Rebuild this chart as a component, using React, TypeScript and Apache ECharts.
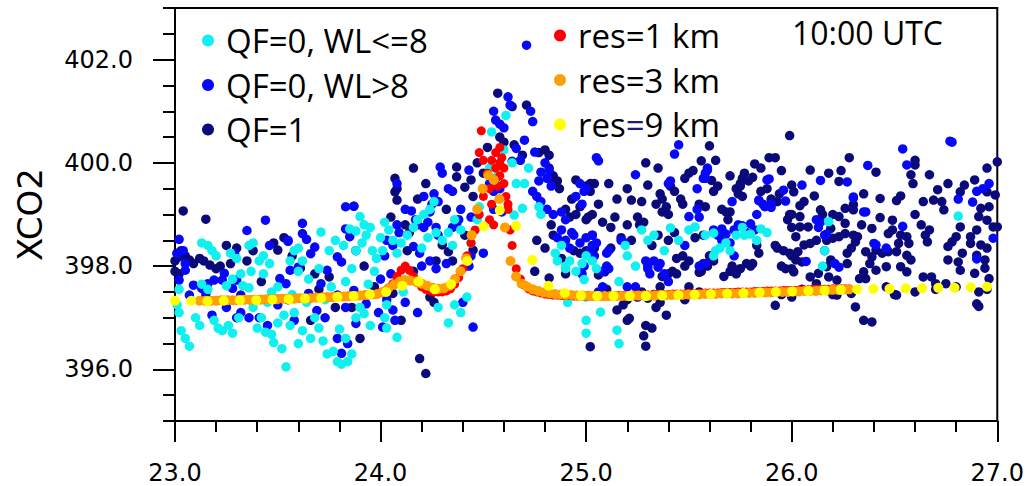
import React, { useEffect, useRef } from "react";
import * as echarts from "echarts";

// ---------- axis ticks ----------
const yLabelValues = [396, 398, 400, 402];

// ---------- observations: QF=0, WL<=8 (cyan) ----------
const cyanPts: number[][] = [
  [23.02,397.55],[23.01,397.25],[23.02,397.1],[23.03,396.75],[23.05,396.6],[23.07,396.45],[23.1,397.0],[23.12,396.85],[23.13,397.65],[23.16,397.55],
  [23.13,398.45],[23.16,398.4],[23.18,398.3],[23.2,398.2],[23.19,396.95],[23.21,396.8],[23.23,396.75],[23.26,396.85],[23.28,396.7],[23.31,397.0],
  [23.27,398.25],[23.3,398.15],[23.36,398.4],[23.38,398.45],[23.41,398.1],[23.43,398.2],[23.37,397.9],[23.32,397.85],[23.33,397.62],[23.36,397.58],
  [23.28,397.75],[23.25,397.62],[23.38,397.2],[23.42,397.0],[23.4,396.8],[23.44,396.72],[23.47,396.68],[23.48,396.52],[23.5,396.9],[23.53,397.05],
  [23.52,396.4],[23.54,396.05],[23.45,397.3],[23.47,397.5],[23.5,397.6],[23.43,397.85],[23.46,398.05],
  [23.56,398.1],[23.58,398.3],[23.6,398.35],[23.62,398.1],[23.6,397.9],[23.65,397.75],[23.7,397.95],[23.71,398.66],[23.68,397.0],[23.7,396.8],
  [23.72,396.55],[23.74,396.3],[23.77,396.35],[23.79,396.15],[23.81,396.1],[23.84,396.15],[23.86,396.3],[23.83,396.6],[23.8,396.78],[23.88,397.0],
  [23.9,397.2],[23.92,397.08],[23.95,396.85],[23.75,398.3],[23.78,398.5],[23.82,398.4],[23.85,398.72],[23.88,398.68],[23.9,398.96],[23.92,398.8],
  [23.93,398.6],[23.95,398.75],[23.91,398.45],[23.88,398.3],[23.96,398.3],[23.98,398.15],[23.97,397.9],[23.76,397.6],[23.73,397.35],[23.64,397.3],
  [23.58,397.1],[23.56,396.85],[23.62,396.75],[23.66,396.6],[23.6,396.5],[23.57,397.45],[23.83,397.7],[23.86,397.95],[23.94,397.65],
  [24.0,398.55],[24.02,398.85],[24.04,398.7],[24.06,398.5],[24.01,398.3],[24.03,397.25],[24.02,397.0],[24.03,396.8],[24.08,396.62],[24.11,397.5],
  [24.14,397.72],[24.08,398.25],[24.1,398.45],[24.13,398.6],[24.16,398.75],[24.18,398.9],[24.21,399.0],[24.24,399.1],[24.26,399.25],[24.23,398.55],
  [24.2,398.35],[24.27,398.65],[24.3,398.5],[24.33,398.65],[24.36,398.9],[24.39,398.7],[24.35,398.4],[24.28,397.2],[24.33,396.9],[24.36,397.25],
  [24.42,397.4],[24.39,397.1],[24.44,398.45],[24.47,398.9],[24.48,399.15],
  [24.54,400.6],[24.61,400.92],[24.6,400.25],[24.64,400.0],[24.66,399.6],[24.72,399.9],[24.7,399.6],[24.69,399.12],[24.65,398.99],[24.78,399.0],
  [24.77,399.15],[24.57,399.75],[24.53,399.9],
  [24.85,398.25],[24.86,398.1],[24.9,397.95],[24.92,398.1],[24.95,397.9],[24.98,398.05],[25.0,398.2],[24.88,398.4],[24.91,397.3],[25.0,397.4],
  [25.03,398.1],[25.05,397.95],[25.07,397.11],[25.15,396.76],[25.16,396.5],[25.0,396.95],[25.0,396.7],[24.99,397.74],[25.16,397.7],[25.19,398.4],
  [25.2,398.2],[24.9,398.0],
  [25.24,398.0],[25.27,398.7],[25.3,398.5],[25.33,398.6],[25.38,398.3],[25.41,398.74],[25.5,398.7],[25.53,398.76],[25.62,398.64],[25.63,398.3],
  [25.65,398.35],[25.62,398.2],[25.73,398.6],[25.77,398.6],[25.8,398.62],[25.83,398.5],[25.7,398.3],[25.68,398.45],[25.85,398.72],[25.88,398.65],
  [25.76,398.75],[25.58,398.6],[25.45,398.5],
  [26.18,398.86],[26.16,398.3],[26.15,398.0],[26.81,398.97]
];

// ---------- observations: QF=0, WL>8 (blue) ----------
const bluePts: number[][] = [
  [23.01,398.24],[23.04,398.3],[23.05,398.05],[23.02,397.73],[23.05,397.92],[23.09,397.63],[23.13,397.57],[23.07,397.44],[23.15,397.47],[23.16,397.66],
  [23.19,397.73],[23.23,397.73],[23.24,397.86],[23.29,398.24],[23.3,397.73],[23.28,397.57],[23.32,397.44],[23.32,397.1],[23.3,397.0],[23.36,397.0],
  [23.41,397.0],[23.35,398.69],[23.44,398.89],[23.46,398.4],[23.51,397.76],[23.54,397.66],[23.55,398.48],[23.56,397.92],[23.6,397.98],[23.62,398.63],
  [23.64,398.52],[23.66,398.24],[23.68,398.37],[23.65,397.47],[23.71,397.66],[23.73,397.0],[23.69,397.14],[23.74,397.92],[23.79,398.18],[23.81,398.08],
  [23.85,398.57],[23.83,398.72],[23.88,398.3],[23.88,396.89],[23.84,396.5],[23.81,396.31],[23.79,396.6],[23.83,397.2],[23.79,397.44],[23.87,397.53],
  [23.93,397.27],[23.99,397.1],[24.01,396.82],[23.02,398.52],[23.83,399.15],[23.62,398.83],[23.55,398.5],[24.08,399.6],[23.87,399.16],[23.25,397.2],
  [23.18,397.05],[23.5,397.25],[23.58,396.95],[23.45,396.85],
  [24.29,399.92],[24.3,399.8],[24.43,399.86],[24.33,399.5],[24.35,399.45],[24.21,399.35],[24.26,399.4],[24.28,399.25],[24.12,399.1],[24.15,399.07],
  [24.17,398.9],[24.18,398.8],[24.23,398.85],[24.24,399.05],[24.21,398.75],[24.39,399.1],[24.38,398.9],[24.44,398.95],[24.35,398.75],[24.37,398.82],
  [24.27,398.75],[24.28,398.6],[24.08,398.8],[24.09,398.65],[24.03,398.5],[24.06,398.4],[24.02,398.2],[24.16,398.38],[24.19,398.25],[24.2,398.0],
  [24.24,398.1],[24.27,397.95],[24.32,398.05],[24.44,398.2],[24.43,398.0],[24.5,398.25],[24.0,397.75],[24.05,397.85],[24.06,397.15],[24.03,397.35],
  [24.12,397.3],[24.07,396.95],[24.18,397.1],[24.45,396.82],[24.4,397.3],
  [24.62,401.28],[24.63,401.12],[24.56,400.83],[24.58,400.75],[24.6,400.68],[24.55,401.0],[24.73,401.0],[24.74,400.8],[24.7,400.44],[24.66,400.28],
  [24.68,400.05],[24.75,400.21],[24.8,400.0],[24.82,399.85],[24.78,399.82],[24.77,399.65],[24.81,399.7],[24.83,399.55],[24.74,399.45],[24.76,399.35],
  [24.78,399.25],[24.81,399.1],[24.84,399.0],[24.88,399.05],[24.9,398.9],[24.88,398.7],[24.9,398.5],[24.92,398.35],[24.94,398.6],[24.97,399.6],
  [24.99,399.45],[25.0,399.5],[24.95,399.35],[24.98,399.2],[25.05,400.1],[24.53,399.6],[24.55,399.45],[24.56,399.7],[24.58,399.5],[24.55,399.1],
  [24.59,399.05],[24.71,402.28],[24.86,398.55],[24.89,398.45],[24.93,398.65],[24.97,398.45],[25.0,398.55],[25.03,398.6],[25.05,398.45],[24.98,397.85],
  [24.99,398.0],
  [25.06,400.04],[25.45,400.35],[25.43,400.17],[25.24,399.77],[25.4,399.6],[25.41,399.65],[25.54,399.5],[25.58,399.8],[25.59,399.9],[25.57,399.7],
  [25.5,398.96],[25.48,398.4],[25.54,399.1],[25.55,398.95],[25.62,398.7],[25.64,398.6],[25.66,398.5],[25.68,398.62],[25.7,398.45],[25.65,398.65],
  [25.74,398.8],[25.76,398.78],[25.8,398.82],[25.82,398.7],[25.88,399.67],[25.84,399.28],[25.87,399.15],[25.9,399.2],[25.96,399.47],[25.97,399.26],
  [25.89,399.69],[25.71,399.25],[25.84,399.27],[25.86,399.2],[25.83,399.0],[25.9,399.14],[25.58,399.7],[25.59,399.86],[25.02,398.3],[25.03,398.4],
  [25.04,398.2],[25.1,398.25],[25.11,398.3],[25.1,398.0],[25.11,397.95],[25.08,397.9],[25.17,398.5],[25.19,398.45],[25.29,398.1],[25.3,398.0],
  [25.33,398.1],[25.35,397.98],[25.36,398.05],[25.4,397.7],[25.38,397.85],[25.3,397.95],[25.31,397.85],[25.2,397.6],[25.24,397.6],[25.55,398.0],
  [25.58,398.05],[25.72,398.2],[25.08,397.6],[25.06,397.5],[25.66,398.72],[25.78,398.65],[25.72,398.7],
  [26.54,400.27],[26.37,399.95],[26.56,399.96],[26.78,400.4],[26.77,400.42],[26.05,399.57],[26.14,399.66],[26.27,399.63],[26.3,399.32],[26.36,399.05],
  [26.12,398.9],[26.16,398.6],[26.17,398.62],[26.54,398.77],[26.4,398.44],[26.41,398.41],[26.46,398.35],[26.07,398.09],[26.21,398.05],[26.23,397.98],
  [26.16,398.3],[26.81,399.3],[26.88,399.24],[26.9,399.45],[26.93,399.5],[26.96,399.6],[26.98,398.54],[26.9,398.14],[26.35,399.05],[26.3,399.34],
  [26.14,398.85],[26.13,398.75]
];

// ---------- observations: QF=1 (navy) ----------
const navyPts: number[][] = [
  [23.04,399.07],[23.15,398.91],[23.02,398.18],[23.0,398.1],[23.01,398.25],[23.03,398.3],[23.05,398.2],[23.07,398.12],[23.09,398.05],[23.12,398.15],
  [23.14,398.1],[23.17,398.02],[23.2,397.95],[23.22,398.0],[23.38,398.3],[23.5,398.31],[23.61,397.96],[23.75,397.79],[23.87,399.16],[23.0,397.9],
  [23.02,397.85],[23.25,398.4],[23.48,398.45],[23.53,398.55],[23.57,398.2],[23.68,397.85],[23.7,397.55],[23.78,397.2],[23.86,397.2],[23.42,397.7],
  [23.35,398.1],[23.15,397.4],[23.92,398.0],[23.97,397.6],[23.9,396.6],[23.66,396.95],[23.55,397.35],[23.3,398.35],[23.27,398.05],
  [24.07,399.44],[24.08,399.28],[24.16,399.9],[24.07,399.7],[24.08,399.5],[24.37,399.92],[24.37,399.73],[24.41,399.53],[24.44,399.67],[24.12,398.8],
  [24.14,398.65],[24.3,398.41],[24.33,398.28],[24.27,398.1],[24.35,398.1],[24.45,398.31],[24.06,397.47],[24.1,396.95],[24.24,397.4],[24.26,397.3],
  [24.19,396.21],[24.22,395.92],[24.57,401.35],[24.64,401.09],[24.71,401.12],[24.58,400.5],[24.6,400.4],[24.65,400.35],[24.64,400.03],[24.69,400.15],
  [24.47,400.0],[24.52,400.3],[24.5,399.8],[24.45,399.35],[24.22,399.6],[24.25,399.2],[24.18,399.3],[24.05,398.95],[24.32,399.1],[24.41,398.6],
  [24.16,397.9],[24.13,398.3],
  [24.77,400.2],[24.8,400.25],[24.82,400.15],[24.82,399.9],[24.84,399.75],[24.84,399.6],[24.87,399.5],[24.86,399.65],[24.95,399.67],[25.0,399.55],
  [25.02,399.45],[25.04,399.6],[24.93,399.3],[24.9,399.1],[24.92,398.95],[24.95,399.0],[24.97,399.15],[25.0,398.9],[25.03,399.0],[24.94,398.3],
  [24.97,398.25],[25.0,398.3],[25.04,398.35],[24.84,398.6],[24.83,398.8],[24.82,397.77],[24.76,398.5],[24.8,398.35],[24.88,398.15],[24.9,397.85],
  [24.75,397.9],[25.02,396.44],[25.06,397.83],[25.09,397.89],
  [25.6,400.33],[25.63,400.05],[25.56,400.04],[25.29,400.0],[25.35,399.9],[25.82,399.98],[25.85,399.9],[25.89,400.1],[25.92,400.1],[25.77,399.8],
  [25.76,399.7],[25.79,399.65],[25.81,399.72],[25.75,399.6],[25.74,399.4],[25.76,399.35],[25.61,399.66],[25.5,399.8],[25.48,399.7],[25.52,399.85],
  [25.46,399.3],[25.47,399.2],[25.36,399.4],[25.37,399.3],[25.3,399.57],[25.2,399.5],[25.15,399.3],[25.22,399.28],[25.11,399.6],[25.02,399.6],
  [25.25,398.95],[25.26,398.8],[25.2,398.8],[25.28,398.85],[25.22,398.5],[25.17,398.55],[25.12,398.75],[25.12,398.35],[25.03,398.6],[25.01,398.95],
  [25.39,399.15],[25.4,399.0],[25.37,399.05],[25.34,399.2],[25.55,399.2],[25.58,399.15],[25.66,399.1],[25.68,399.05],[25.7,399.05],[25.69,398.9],
  [25.73,399.5],[25.75,399.55],[25.9,399.3],[25.93,399.25],[25.94,399.4],[25.99,399.0],[25.98,398.9],[26.0,398.75],[25.92,398.4],[25.93,398.35],
  [25.96,398.3],[25.99,398.25],[26.0,398.2],[25.97,397.95],[25.95,398.0],[26.0,397.95],[25.83,398.4],[25.84,398.25],[25.81,398.05],[25.78,398.05],
  [25.8,398.0],[25.71,398.0],[25.75,397.95],[25.73,397.85],[25.7,397.9],[25.67,397.8],[25.6,398.2],[25.59,398.0],[25.62,398.1],[25.57,398.05],
  [25.55,397.88],[25.56,397.9],[25.5,398.1],[25.48,398.0],[25.47,398.2],[25.44,398.15],[25.42,397.9],[25.44,397.85],[25.4,397.85],[25.37,397.8],
  [25.36,397.6],[25.36,397.3],[25.34,397.2],[25.39,397.05],[25.2,396.95],[25.29,396.85],[25.32,396.8],[25.28,396.65],[25.29,396.45],[25.5,397.6],
  [25.48,397.35],[25.55,397.5],[25.92,397.24],[25.21,396.99],[25.15,397.15],[25.18,397.25],[25.2,397.35],[25.25,397.4],[25.3,397.38],[25.27,397.5],
  [25.33,397.45],[25.1,397.55],[25.41,399.55],[25.43,399.45],[25.27,399.25],[25.14,398.95],[25.08,398.85],[25.06,399.2],[25.62,399.45],[25.64,399.55],
  [25.85,399.45],[25.88,399.5],[25.7,399.75],[25.95,399.85],[25.53,398.55],[25.57,398.6],[25.43,398.65],[25.4,398.5],[25.35,398.6],[25.32,398.4],
  [25.99,400.53],[26.28,400.1],[26.09,399.86],[26.18,399.8],[26.24,399.85],[26.23,399.64],[26.41,399.82],[26.0,399.57],[26.01,399.44],[26.06,399.25],
  [26.11,399.36],[26.04,399.17],[26.14,399.09],[26.15,399.0],[26.0,399.0],[26.04,398.76],[26.08,398.76],[26.2,399.0],[26.26,399.12],[26.3,399.09],
  [26.3,399.19],[26.35,399.4],[26.43,399.31],[26.51,399.27],[26.53,399.36],[26.34,398.8],[26.32,398.57],[26.31,398.47],[26.29,398.35],[26.39,398.73],
  [26.43,398.94],[26.49,398.89],[26.47,398.63],[26.49,398.7],[26.53,398.6],[26.56,398.57],[26.57,398.44],[26.52,398.44],[26.51,398.28],[26.56,398.21],
  [26.58,398.12],[26.6,399.0],[26.63,398.8],[26.67,398.7],[26.65,398.6],[26.66,398.47],[26.58,399.77],[26.6,399.96],[26.6,400.05],[26.59,399.6],
  [26.67,399.77],[26.71,399.48],[26.73,399.25],[26.74,399.09],[26.69,399.28],[26.64,399.25],[26.76,399.6],[26.82,399.44],[26.84,399.57],[26.89,399.67],
  [26.95,399.9],[27.0,400.02],[26.95,399.44],[26.96,399.15],[26.99,399.38],[26.92,399.12],[26.91,398.96],[26.95,398.89],[26.98,398.76],[27.0,398.76],
  [26.9,398.7],[26.87,398.57],[26.82,398.76],[26.8,398.57],[26.78,398.47],[26.76,398.38],[26.76,398.12],[26.81,398.08],[26.82,397.92],[26.83,398.25],
  [26.87,398.44],[26.92,398.41],[26.95,398.35],[26.9,398.21],[26.94,398.12],[26.94,397.96],[26.89,397.86],[26.96,397.76],[26.91,397.5],[26.9,397.27],
  [26.68,397.79],[26.64,397.79],[26.7,397.66],[26.75,397.66],[26.35,396.95],[26.39,396.92],[26.31,397.21],[26.22,397.44],[26.29,397.47],[26.51,397.44],
  [26.46,397.6],[26.36,397.76],[26.33,397.76],[26.38,398.05],[26.35,397.89],[26.41,397.92],[26.46,397.99],[26.47,398.28],[26.53,397.99],[26.56,397.89],
  [26.41,398.31],[26.44,398.25],[26.39,398.18],[26.36,398.28],[26.27,398.25],[26.27,398.05],[26.19,398.12],[26.17,397.99],[26.13,397.86],[26.18,397.79],
  [26.22,397.73],[26.12,397.66],[26.09,397.79],[26.05,398.08],[26.02,398.12],[26.01,397.89],[26.03,398.28],[26.06,398.41],[26.09,398.44],[26.12,398.5],
  [26.17,398.5],[26.2,398.54],[26.23,398.57],[26.26,398.63],[26.3,398.6],[26.26,398.83],[26.23,398.96],[26.19,398.73],[26.02,398.57],[26.04,398.96],
  [25.95,397.45],[26.0,397.4],[26.05,397.55],[26.2,397.45],[26.5,397.45],[26.6,397.5],[26.7,397.55],[26.8,397.6],[26.91,397.22],[26.95,397.55]
];

// ---------- model: res=9 km (yellow) ----------
const res9Start = 23.0;
const res9Step = 0.079;
const res9Y = [
  397.33, 397.33, 397.32, 397.33, 397.34, 397.34, 397.35, 397.36, 397.37, 397.38,
  397.40, 397.42, 397.45, 397.50, 397.62, 397.70, 397.55, 397.65, 398.10, 398.77,
  399.08, 398.78, 398.12, 397.62, 397.48, 397.43, 397.42, 397.42, 397.42, 397.42,
  397.43, 397.44, 397.45, 397.46, 397.47, 397.48, 397.49, 397.50, 397.51, 397.52,
  397.53, 397.54, 397.55, 397.56, 397.56, 397.57, 397.57, 397.58, 397.58, 397.59,
  397.60
];

// ---------- model: res=3 km (orange) ----------
const res3Start = 23.12;
const res3Step = 0.027;
const res3Y = [
  397.33, 397.33, 397.33, 397.33, 397.34, 397.34, 397.34, 397.34, 397.35, 397.35,
  397.35, 397.35, 397.36, 397.36, 397.36, 397.37, 397.37, 397.37, 397.38, 397.38,
  397.38, 397.39, 397.39, 397.40, 397.40, 397.41, 397.41, 397.42, 397.42, 397.43,
  397.44, 397.45, 397.46, 397.50, 397.57, 397.64, 397.70, 397.73, 397.72, 397.70,
  397.66, 397.62, 397.58, 397.56, 397.57, 397.62, 397.75, 397.90, 398.15, 398.60,
  399.10, 399.50, 399.76, 399.67, 399.30, 398.75, 398.10, 397.80, 397.66, 397.60,
  397.55, 397.52, 397.49, 397.47, 397.46, 397.45, 397.44, 397.44, 397.43, 397.43,
  397.43, 397.42, 397.42, 397.42, 397.42, 397.42, 397.42, 397.42, 397.43, 397.43,
  397.43, 397.43, 397.43, 397.44, 397.44, 397.44, 397.44, 397.44, 397.45, 397.45,
  397.45, 397.46, 397.46, 397.46, 397.47, 397.47, 397.47, 397.47, 397.48, 397.48,
  397.48, 397.49, 397.49, 397.49, 397.50, 397.50, 397.50, 397.51, 397.51, 397.52,
  397.52, 397.52, 397.53, 397.53, 397.54, 397.54, 397.55, 397.55
];

// ---------- model: res=1 km (red) ----------
const res1Start = 23.12;
const res1Step = 0.02;
const res1Y = [
  397.33, 397.33, 397.33, 397.33, 397.33, 397.34, 397.34, 397.34, 397.34, 397.34,
  397.35, 397.35, 397.35, 397.35, 397.35, 397.36, 397.36, 397.36, 397.36, 397.37,
  397.37, 397.37, 397.37, 397.38, 397.38, 397.38, 397.38, 397.39, 397.39, 397.39,
  397.40, 397.40, 397.40, 397.41, 397.41, 397.41, 397.42, 397.42, 397.43, 397.43,
  397.44, 397.44, 397.45, 397.46, 397.48, 397.52, 397.58, 397.66, 397.80, 397.92,
  398.00, 397.92, 397.80, 397.68, 397.60, 397.55, 397.52, 397.50, 397.50, 397.50,
  397.52, 397.56, 397.65, 397.78, 397.95, 398.20, 398.45, 398.70, 399.00, 399.35,
  399.80, 400.05, 399.90, 400.00, 399.60, 399.10, 398.40, 397.95, 397.75, 397.63,
  397.56, 397.52, 397.50, 397.48, 397.46, 397.45, 397.44, 397.44, 397.43, 397.43,
  397.43, 397.42, 397.42, 397.42, 397.42, 397.42, 397.42, 397.42, 397.42, 397.42,
  397.43, 397.43, 397.43, 397.43, 397.43, 397.43, 397.44, 397.44, 397.44, 397.44,
  397.44, 397.45, 397.45, 397.45, 397.45, 397.46, 397.46, 397.46, 397.46, 397.47,
  397.47, 397.47, 397.47, 397.48, 397.48, 397.48, 397.48, 397.49, 397.49, 397.49,
  397.49, 397.50, 397.50, 397.50, 397.50, 397.51, 397.51, 397.51, 397.52, 397.52,
  397.52, 397.52, 397.53, 397.53, 397.53, 397.53, 397.54, 397.54, 397.54, 397.55,
  397.55, 397.55, 397.55, 397.55, 397.56, 397.56, 397.56, 397.56, 397.56
];
const res1Extra: number[][] = [
  [24.49,400.62],[24.48,400.2],[24.5,400.05],[24.53,399.5],[24.54,399.2],[24.53,398.9],[24.55,398.8],[24.58,399.75],
  [24.59,400.1],[24.6,399.9],[24.61,399.35],[24.62,399.2],[24.57,399.55],[24.56,400.2],[24.58,400.3],[24.63,398.7]
];

const C_CYAN = "#10f0f0";
const C_BLUE = "#0808f8";
const C_NAVY = "#0a0a7a";
const C_RED = "#ff0000";
const C_ORANGE = "#ffa000";
const C_YELLOW = "#ffff00";

const LEG_FONT = '"Open Sans", "DejaVu Sans", sans-serif';
const AX_FONT = '"DejaVu Sans", sans-serif';

function grid(start: number, step: number, ys: number[]): number[][] {
  return ys.map((y, i) => [+(start + i * step).toFixed(4), y]);
}

export default function App() {
  const ref = useRef<HTMLDivElement>(null);
  useEffect(() => {
    if (!ref.current) return;
    const chart = echarts.init(ref.current, null, { renderer: "svg" });
    const tickStyle = { color: "#000", width: 2 };
    const dotSize = 9.5;
    chart.setOption({
      animation: false,
      grid: { left: 175, top: 8, right: 29, bottom: 65, show: true, borderColor: "#000", borderWidth: 2, backgroundColor: "transparent" },
      legend: [
        {
          data: ["QF=0, WL<=8", "QF=0, WL>8", "QF=1"],
          orient: "vertical", left: 202, top: 24, padding: 0,
          itemWidth: 26, itemHeight: 12, itemGap: 11.5, icon: "circle",
          textStyle: { fontSize: 33, fontFamily: LEG_FONT, color: "#000", lineHeight: 33 },
          selectedMode: false
        },
        {
          data: ["res=1 km", "res=3 km", "res=9 km"],
          orient: "vertical", left: 554, top: 19, padding: 0,
          itemWidth: 26, itemHeight: 12, itemGap: 11.5, icon: "circle",
          formatter: (name: string) => name === "res=9 km" ? "{t|res}{e|=}{t|9 km}" : "{t|" + name + "}",
          textStyle: {
            fontSize: 33, fontFamily: LEG_FONT, color: "#000", lineHeight: 33,
            rich: {
              t: { fontSize: 33, fontFamily: LEG_FONT, color: "#000", lineHeight: 33 },
              e: { fontSize: 33, fontFamily: LEG_FONT, color: "#1a1a8a", lineHeight: 33 }
            }
          },
          selectedMode: false
        }
      ],
      graphic: [
        { type: "text", left: 792, top: 16, style: { text: "10:00 UTC", font: '32px "Open Sans", sans-serif', fill: "#000" } }
      ],
      xAxis: {
        type: "value", min: 23, max: 27, interval: 1,
        axisLine: { show: true, onZero: false, lineStyle: tickStyle },
        axisTick: { show: true, length: 21, lineStyle: tickStyle },
        minorTick: { show: true, splitNumber: 5, length: 11, lineStyle: tickStyle },
        splitLine: { show: false },
        axisLabel: { formatter: (v: number) => v.toFixed(1), margin: 40, fontSize: 24, fontFamily: AX_FONT, color: "#000" }
      },
      yAxis: [
        {
          type: "value", min: 395, max: 403, interval: 0.5, position: "left",
          axisLine: { show: true, onZero: false, lineStyle: tickStyle },
          axisTick: { show: true, length: 12, lineStyle: tickStyle },
          splitLine: { show: false },
          axisLabel: {
            formatter: (v: number) => (yLabelValues.indexOf(v) >= 0 ? v.toFixed(1) : ""),
            margin: 42, fontSize: 24, fontFamily: AX_FONT, color: "#000"
          },
          name: "XCO2", nameLocation: "middle", nameGap: 128,
          nameTextStyle: { fontSize: 34, fontFamily: AX_FONT, color: "#000" }
        },
        {
          type: "value", min: 395, max: 403, position: "left", offset: 0,
          axisLine: { show: false },
          axisTick: { show: true, length: 22, customValues: yLabelValues, lineStyle: tickStyle },
          axisLabel: { show: false },
          splitLine: { show: false }
        }
      ],
      series: [
        { name: "QF=1", type: "scatter", data: navyPts, symbolSize: dotSize, itemStyle: { color: C_NAVY, opacity: 1 }, silent: true },
        { name: "QF=0, WL>8", type: "scatter", data: bluePts, symbolSize: dotSize, itemStyle: { color: C_BLUE, opacity: 1 }, silent: true },
        { name: "QF=0, WL<=8", type: "scatter", data: cyanPts, symbolSize: dotSize, itemStyle: { color: C_CYAN, opacity: 1 }, silent: true },
        { name: "res=1 km", type: "scatter", data: grid(res1Start, res1Step, res1Y).concat(res1Extra), symbolSize: 9, itemStyle: { color: C_RED, opacity: 1 }, silent: true },
        { name: "res=3 km", type: "scatter", data: grid(res3Start, res3Step, res3Y), symbolSize: 10, itemStyle: { color: C_ORANGE, opacity: 1 }, silent: true },
        { name: "res=9 km", type: "scatter", data: grid(res9Start, res9Step, res9Y), symbolSize: 10, itemStyle: { color: C_YELLOW, opacity: 1 }, silent: true }
      ]
    });
    return () => chart.dispose();
  }, []);
  return <div ref={ref} style={{ width: 1027, height: 486, position: "absolute", left: 0, top: 0, background: "#fff" }} />;
}
